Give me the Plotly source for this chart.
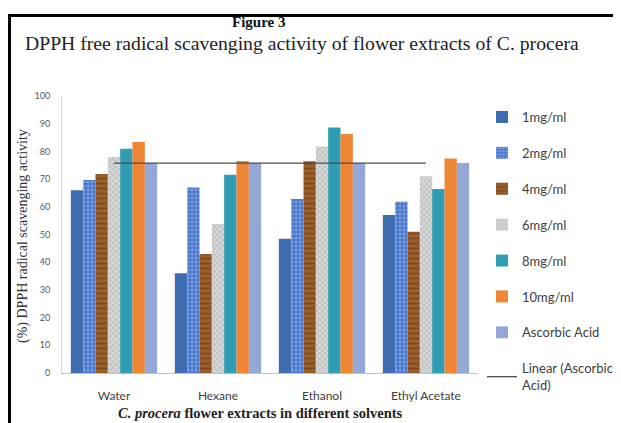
import numpy as np
import plotly.graph_objects as go

categories = ["Water", "Hexane", "Ethanol", "Ethyl Acetate"]
series_names = ["1mg/ml", "2mg/ml", "4mg/ml", "6mg/ml", "8mg/ml", "10mg/ml", "Ascorbic Acid"]
v_1mg = [66, 36, 48.5, 57]
v_2mg = [69.7, 67, 62.8, 61.8]
v_4mg = [71.8, 43, 76.4, 51]
v_6mg = [78, 53.8, 81.8, 71]
v_8mg = [81, 71.6, 88.6, 66.4]
v_10mg = [83.4, 76.5, 86.3, 77.4]
v_aa = [75.8, 75.8, 75.8, 75.8]
y_ticks = list(range(0, 101, 10))

values = [v_1mg, v_2mg, v_4mg, v_6mg, v_8mg, v_10mg, v_aa]
colors = ["#3D6DAE", "#4E7BD0", "#9A5E2A", "#D6D6D6", "#2F9DB3", "#EE8635", "#93A8D6"]
patterns = [
    None,
    dict(shape=".", fgcolor="#B8C9EE", size=4, solidity=0.3, fillmode="overlay"),
    dict(shape="-", fgcolor="#5A3210", size=5, solidity=0.3, fillmode="overlay"),
    dict(shape="x", fgcolor="#7A7A7A", size=4, solidity=0.25, fillmode="overlay"),
    None, None, None,
]

# page body has an 8px margin: work in window pixels and convert
OFF = 8
WIN_W, WIN_H = 621, 423
W, H = WIN_W - OFF, WIN_H - OFF
L, R, T, B = 62, 478, 96, 373  # plot area, window pixels
pw, ph = R - L, B - T
def px(x):
    return (x - L) / pw
def py(y):
    return (B - y) / ph

fig = go.Figure()
for i, (name, vals) in enumerate(zip(series_names, values)):
    marker = dict(color=colors[i], line=dict(width=0))
    if patterns[i] is not None:
        marker["pattern"] = patterns[i]
    fig.add_trace(go.Bar(x=categories, y=vals, name=name, marker=marker,
                         legendgroup=name))

xi = np.arange(len(categories))
coef = np.polyfit(xi, v_aa, 1)
trend = np.polyval(coef, xi)
fig.add_trace(go.Scatter(x=categories, y=trend, mode="lines",
                         name="Linear (Ascorbic<br>Acid)",
                         line=dict(color="#4A4A4A", width=1.3),
                         legendgroup="lin"))

fig.update_layout(
    width=W, height=H,
    margin=dict(l=L - OFF, r=WIN_W - R, t=T - OFF, b=WIN_H - B, pad=0, autoexpand=False),
    paper_bgcolor="white", plot_bgcolor="white",
    barmode="group", bargap=0.17, bargroupgap=0,
    showlegend=True,
    legend=dict(xref="container", yref="container", x=(482 - OFF) / W,
                y=1 - (102 - OFF) / H, xanchor="left", yanchor="top",
                font=dict(family="Lato", size=13, color="#404040"),
                tracegroupgap=16, itemwidth=30, bgcolor="rgba(0,0,0,0)",
                maxheight=400),
    font=dict(family="Lato", color="#595959"),
)
fig.update_xaxes(showline=True, linecolor="#BFBFBF", linewidth=1, ticks="",
                 tickfont=dict(family="Lato", size=12, color="#404040"),
                 ticklabelstandoff=12, showgrid=False, fixedrange=True)
fig.update_yaxes(range=[0, 100], tickvals=y_ticks, showline=True, linecolor="#D9D9D9",
                 linewidth=1, ticks="", showgrid=False, zeroline=False,
                 tickfont=dict(family="Lato", size=9, color="#595959"), ticklabelstandoff=9)

ann = dict(xref="paper", yref="paper", showarrow=False, xanchor="center", yanchor="middle")
fig.add_annotation(text="<b>Figure 3</b>", x=px(258), y=py(22),
                   font=dict(family="Liberation Serif", size=15, color="#111111"), **ann)
fig.add_annotation(text="DPPH free radical scavenging activity of flower extracts of C. procera",
                   x=px(302), y=py(43),
                   font=dict(family="Liberation Serif", size=19.7, color="#222222"), **ann)
fig.add_annotation(text="(%) DPPH radical scavenging activity", x=px(23), y=py(236),
                   textangle=-90,
                   font=dict(family="Liberation Serif", size=14, color="#333333"), **ann)
fig.add_annotation(text="<b><i>C. procera</i> flower extracts in different solvents</b>",
                   x=px(260), y=py(413),
                   font=dict(family="Liberation Serif", size=14.5, color="#222222"), **ann)

# frame border (left and top) in window pixels
fig.add_shape(type="line", xref="paper", yref="paper", x0=px(9.5), x1=px(9.5),
              y0=py(14), y1=py(440), line=dict(color="black", width=3))
fig.add_shape(type="line", xref="paper", yref="paper", x0=px(8), x1=px(640),
              y0=py(15.5), y1=py(15.5), line=dict(color="black", width=3))

fig.write_html("out.html")
